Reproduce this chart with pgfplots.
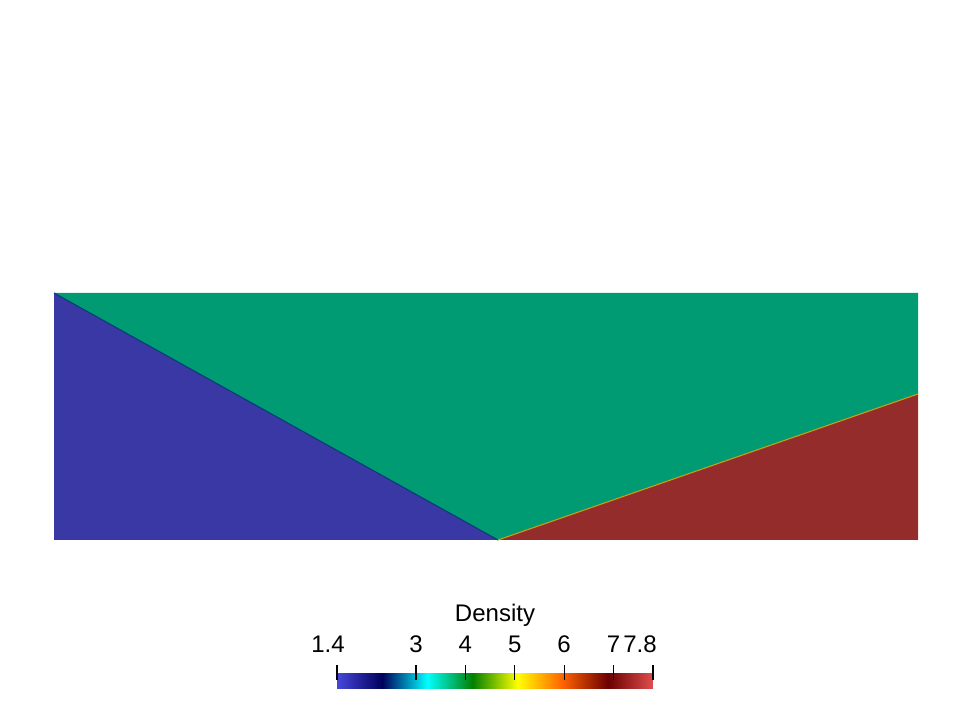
\documentclass[border=0pt]{standalone}
\usepackage{fontspec}
\setmainfont{Liberation Sans}
\usepackage{pgfplots}
\pgfplotsset{compat=1.18}
\definecolor{bluereg}{RGB}{58,56,164}
\definecolor{greenreg}{RGB}{0,155,114}
\definecolor{redreg}{RGB}{149,44,44}
\definecolor{edgeA}{RGB}{10,60,120}
\definecolor{edgeB}{RGB}{200,160,20}
\pgfplotsset{colormap={rdesat}{rgb=(0.278431,0.278431,0.858824) rgb=(0,0,0.360784) rgb=(0,1,1) rgb=(0,0.501961,0) rgb=(1,1,0) rgb=(1,0.380392,0) rgb=(0.419608,0,0) rgb=(0.878431,0.301961,0.301961)}}
\begin{document}
\begin{tikzpicture}
\begin{axis}[at={(0pt,0pt)}, anchor=south west, scale only axis,
  width=720pt, height=534pt, xmin=0, xmax=960, ymin=0, ymax=712,
  hide axis, clip=false]
\addplot[draw=none] coordinates {(0,0) (960,712)};
% green region
\addplot[fill=greenreg, draw=none] coordinates {(54,419) (918,419) (918,318) (498,172)} -- cycle;
% blue region
\addplot[fill=bluereg, draw=none] coordinates {(54,419) (54,172) (498,172)} -- cycle;
% red region
\addplot[fill=redreg, draw=none] coordinates {(498,172) (918,172) (918,318)} -- cycle;
% interfaces
\addplot[draw=edgeA, line width=0.8pt] coordinates {(54,419) (498,172)};
\addplot[draw=edgeB, line width=0.8pt] coordinates {(498,172) (918,318)};
\end{axis}
\begin{axis}[at={(252.75pt,17.25pt)}, anchor=south west, scale only axis,
  width=237pt, height=12pt, xmin=1.4, xmax=7.8, ymin=0, ymax=1,
  axis line style={draw=none}, axis on top,
  colormap name=rdesat,
  ytick=\empty,
  xtick={3,4,5,6,7},
  xticklabels={3,4,5,6,7},
  extra x ticks={1.4,7.8},
  extra x tick labels={1.4\rule{13.5pt}{0pt},7.8\rule{19.5pt}{0pt}},
  xtick pos=right, xticklabel pos=right,
  xtick align=center, major tick length=11.25pt,
  tick style={black, line width=0.8pt},
  xticklabel style={font=\fontsize{18}{18}\selectfont, inner sep=2pt, yshift=7.5pt},
  title={Density},
  title style={font=\fontsize{18}{18}\selectfont, at={(0.5,1)}, anchor=base, yshift=32.25pt},
]
\addplot[surf, shader=interp, point meta=x, mesh/rows=2] coordinates {
(1.4,0) (7.8,0)

(1.4,1) (7.8,1)
};
\end{axis}
\end{tikzpicture}
\end{document}
